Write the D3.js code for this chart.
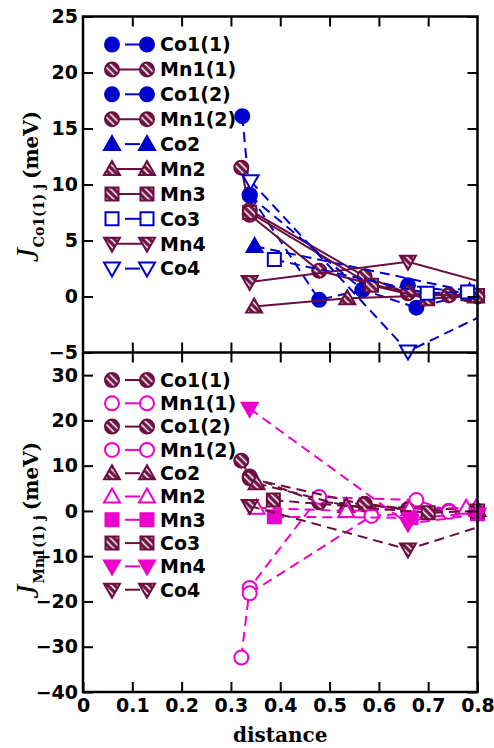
<!DOCTYPE html>
<html><head><meta charset="utf-8">
<script src="https://cdn.jsdelivr.net/npm/d3@7"></script>
<style>
html,body{margin:0;padding:0;background:#fff;}
svg{display:block;}
.tick text{font-family:"DejaVu Sans",sans-serif;font-weight:bold;font-size:19px;fill:#000;}
</style></head>
<body>
<svg id="c" width="494" height="748"></svg>
<script>
// ---------- data ----------
const xTickValues = [0, 0.1, 0.2, 0.3, 0.4, 0.5, 0.6, 0.7, 0.8];
const xTickLabels = ["0", "0.1", "0.2", "0.3", "0.4", "0.5", "0.6", "0.7", "0.8"];
const topYTicks = [-5, 0, 5, 10, 15, 20, 25];
const botYTicks = [-40, -30, -20, -10, 0, 10, 20, 30];

// top panel: J_Co1(1)j
const topCo1_1 = [[0.323,16.1],[0.338,9.1],[0.479,-0.3],[0.567,0.6],[0.659,1.0],[0.78,0.3]];
const topMn1_1 = [[0.321,11.5],[0.338,7.7],[0.571,1.8],[0.659,0.3],[0.742,0.15],[0.8,0.0]];
const topCo1_2 = [[0.338,9.0],[0.567,0.6],[0.676,-1.0],[0.78,0.2]];
const topMn1_2 = [[0.338,7.3],[0.479,2.3],[0.659,0.3],[0.742,0.1]];
const topCo2   = [[0.348,4.5],[0.784,0.45]];
const topMn2   = [[0.347,-0.9],[0.536,-0.15],[0.784,0.2],[0.797,0.0]];
const topMn3   = [[0.338,7.5],[0.585,1.0],[0.699,-0.2],[0.8,0.1]];
const topCo3   = [[0.388,3.3],[0.698,0.3],[0.78,0.4]];
const topMn4   = [[0.338,1.3],[0.659,3.1],[0.85,0.8]];
const topCo4   = [[0.340,10.3],[0.659,-4.9],[0.85,-0.85]];

// bottom panel: J_Mn1(1)j
const botCo1_1 = [[0.321,11.1],[0.338,7.6],[0.479,1.9],[0.571,1.6],[0.659,0.4],[0.742,0.0]];
const botMn1_1 = [[0.321,-32.4],[0.338,-17.0],[0.479,3.1],[0.676,2.4],[0.742,0.0]];
const botCo1_2 = [[0.338,7.2],[0.571,1.4],[0.659,0.2],[0.8,0.0]];
const botMn1_2 = [[0.338,-18.2],[0.585,-1.1],[0.676,-0.5],[0.742,-0.2]];
const botCo2   = [[0.352,6.1],[0.534,1.1],[0.8,0.2]];
const botMn2   = [[0.352,0.7],[0.534,0.0],[0.662,0.4],[0.777,0.7],[0.797,0.7]];
const botMn3   = [[0.388,-1.3],[0.665,-1.5],[0.8,-0.6]];
const botCo3   = [[0.386,2.4],[0.700,-0.4],[0.8,0.0]];
const botMn4   = [[0.338,22.6],[0.659,-2.8],[0.8,-0.8]];
const botCo4   = [[0.338,1.1],[0.659,-8.5],[0.85,-1.9]];

const topNames = ["Co1(1)","Mn1(1)","Co1(2)","Mn1(2)","Co2","Mn2","Mn3","Co3","Mn4","Co4"];
const botNames = ["Co1(1)","Mn1(1)","Co1(2)","Mn1(2)","Co2","Mn2","Mn3","Co3","Mn4","Co4"];

// ---------- styles ----------
const BLUE = "#0000cd", MAROON = "#6b0d3e", MAGENTA = "#ee00cc";
const topStyle = [
  {d: topCo1_1, sym:"circle", col:BLUE, fill:"solid", dash:true},
  {d: topMn1_1, sym:"circle", col:MAROON, fill:"hatch", dash:false},
  {d: topCo1_2, sym:"circle", col:BLUE, fill:"solid", dash:true},
  {d: topMn1_2, sym:"circle", col:MAROON, fill:"hatch", dash:false},
  {d: topCo2, sym:"triUp", col:BLUE, fill:"solid", dash:true},
  {d: topMn2, sym:"triUp", col:MAROON, fill:"hatch", dash:false},
  {d: topMn3, sym:"square", col:MAROON, fill:"hatch", dash:false},
  {d: topCo3, sym:"square", col:BLUE, fill:"open", dash:true},
  {d: topMn4, sym:"triDown", col:MAROON, fill:"hatch", dash:false},
  {d: topCo4, sym:"triDown", col:BLUE, fill:"open", dash:true}
];
const botStyle = [
  {d: botCo1_1, sym:"circle", col:MAROON, fill:"hatch", dash:true},
  {d: botMn1_1, sym:"circle", col:MAGENTA, fill:"open", dash:true},
  {d: botCo1_2, sym:"circle", col:MAROON, fill:"hatch", dash:true},
  {d: botMn1_2, sym:"circle", col:MAGENTA, fill:"open", dash:true},
  {d: botCo2, sym:"triUp", col:MAROON, fill:"hatch", dash:true},
  {d: botMn2, sym:"triUp", col:MAGENTA, fill:"open", dash:true},
  {d: botMn3, sym:"square", col:MAGENTA, fill:"solid", dash:true},
  {d: botCo3, sym:"square", col:MAROON, fill:"hatch", dash:true},
  {d: botMn4, sym:"triDown", col:MAGENTA, fill:"solid", dash:true},
  {d: botCo4, sym:"triDown", col:MAROON, fill:"hatch", dash:true}
];

const svg = d3.select("#c");
const L = 83, R = 477.5, T1 = 16.5, B1 = 352.5, T2 = 352.5, B2 = 692;
const x = d3.scaleLinear().domain([0, 0.8]).range([L, R]);
const yTop = d3.scaleLinear().domain([-5, 25]).range([B1, T1]);
const yBot = d3.scaleLinear().domain([-40, 35]).range([B2, T2]);

const defs = svg.append("defs");
const pat = defs.append("pattern").attr("id","hatch").attr("patternUnits","userSpaceOnUse")
  .attr("width",5).attr("height",5).attr("patternTransform","rotate(45)");
pat.append("rect").attr("width",5).attr("height",5).attr("fill",MAROON);
pat.append("line").attr("x1",0).attr("y1",2.5).attr("x2",5).attr("y2",2.5).attr("stroke","#fff").attr("stroke-width",1.6);
defs.append("clipPath").attr("id","clipTop").append("rect").attr("x",L).attr("y",T1).attr("width",R-L).attr("height",B1-T1);
defs.append("clipPath").attr("id","clipBot").append("rect").attr("x",L).attr("y",T2).attr("width",R-L).attr("height",B2-T2);

function symPath(sym){
  if(sym==="circle") return "M7,0A7,7 0 1,1 -7,0A7,7 0 1,1 7,0Z";
  if(sym==="square") return "M-6.5,-6.5H6.5V6.5H-6.5Z";
  if(sym==="triUp") return "M0,-8L8,6H-8Z";
  return "M0,8L8,-6H-8Z";
}
function styleMarker(sel, s){
  sel.attr("d", symPath(s.sym))
    .attr("stroke", s.col).attr("stroke-width", 2)
    .attr("fill", s.fill==="solid" ? s.col : (s.fill==="hatch" ? "url(#hatch)" : "#fff"));
}

function drawPanel(styles, y, clipId){
  const g = svg.append("g");
  const line = d3.line().x(d=>x(d[0])).y(d=>y(d[1]));
  styles.forEach(s=>{
    g.append("path").attr("d", line(s.d)).attr("fill","none")
      .attr("stroke", s.col).attr("stroke-width", 2)
      .attr("stroke-dasharray", s.dash ? "10,6" : null)
      .attr("clip-path", `url(#${clipId})`);
    g.selectAll(null).data(s.d.filter(d=>d[0]<=0.8)).enter().append("path")
      .attr("transform", d=>`translate(${x(d[0])},${y(d[1])})`)
      .call(styleMarker, s);
  });
}
function drawLegend(styles, names, y0, dy){
  const g = svg.append("g");
  styles.forEach((s,i)=>{
    const yy = y0 + i*dy;
    if(s.dash){
      g.append("line").attr("x1",125).attr("x2",140).attr("y1",yy).attr("y2",yy)
        .attr("stroke",s.col).attr("stroke-width",2);
    } else {
      g.append("line").attr("x1",112).attr("x2",147).attr("y1",yy).attr("y2",yy)
        .attr("stroke",s.col).attr("stroke-width",2);
    }
    [112,147].forEach(px=>{
      g.append("path").attr("transform",`translate(${px},${yy})`).call(styleMarker, s);
    });
    g.append("text").attr("x",160).attr("y",yy).attr("dy","0.36em")
      .attr("font-family","DejaVu Sans, sans-serif").attr("font-weight","bold")
      .attr("font-size",19).text(names[i]);
  });
}

drawPanel(topStyle, yTop, "clipTop");
drawPanel(botStyle, yBot, "clipBot");

// axes
function axes(y, yTicks, top, bottom, showX){
  const inner = xTickValues.filter(v=>v>0 && v<0.8);
  svg.append("g").attr("transform",`translate(0,${top})`)
    .call(d3.axisTop(x).tickValues(inner).tickSizeInner(-10).tickSizeOuter(0).tickFormat(""));
  svg.append("g").attr("transform",`translate(0,${bottom})`)
    .call(d3.axisBottom(x).tickValues(showX ? xTickValues : inner).tickSizeInner(-10).tickSizeOuter(0)
      .tickPadding(7).tickFormat(showX ? ((d,i)=>xTickLabels[i]) : ""));
  svg.append("g").attr("transform",`translate(${L},0)`)
    .call(d3.axisLeft(y).tickValues(yTicks).tickSizeInner(-10).tickSizeOuter(0).tickPadding(5).tickFormat(d3.format("d")));
  svg.append("g").attr("transform",`translate(${R},0)`)
    .call(d3.axisRight(y).tickValues(yTicks).tickSizeInner(-10).tickSizeOuter(0).tickFormat(""));
}
axes(yTop, topYTicks, T1, B1, false);
axes(yBot, botYTicks, T2, B2, true);
svg.selectAll(".domain").remove();
svg.selectAll(".tick line").attr("stroke","#000").attr("stroke-width",2);
svg.selectAll(".tick text").attr("fill","#000");
svg.append("rect").attr("x",L).attr("y",T1).attr("width",R-L).attr("height",B2-T1)
  .attr("fill","none").attr("stroke","#000").attr("stroke-width",2.5);
svg.append("line").attr("x1",L).attr("x2",R).attr("y1",B1).attr("y2",B1)
  .attr("stroke","#000").attr("stroke-width",2.5);

drawLegend(topStyle, topNames, 44.5, 24.9);
drawLegend(botStyle, botNames, 380, 23.3);

// axis titles
function yTitle(cy, sub){
  const t = svg.append("text").attr("transform",`translate(38,${cy}) rotate(-90)`)
    .attr("text-anchor","middle").attr("fill","#000");
  t.append("tspan").attr("font-family","Liberation Serif, serif").attr("font-style","italic")
    .attr("font-size",32).text("J");
  t.append("tspan").attr("font-family","DejaVu Serif, serif").attr("font-weight","bold")
    .attr("font-size",14).attr("dy",6).attr("dx",1).text(sub);
  t.append("tspan").attr("font-family","DejaVu Serif, serif").attr("font-weight","bold")
    .attr("font-size",20).attr("dy",-6).attr("dx",5).text("(meV)");
}
yTitle((T1+B1)/2+2, "Co1(1) j");
yTitle((T2+B2)/2-2, "Mn1(1) j");
svg.append("text").attr("x",(L+R)/2).attr("y",742).attr("text-anchor","middle")
  .attr("font-family","DejaVu Serif, serif").attr("font-weight","bold").attr("font-size",20)
  .text("distance");
</script>
</body></html>
